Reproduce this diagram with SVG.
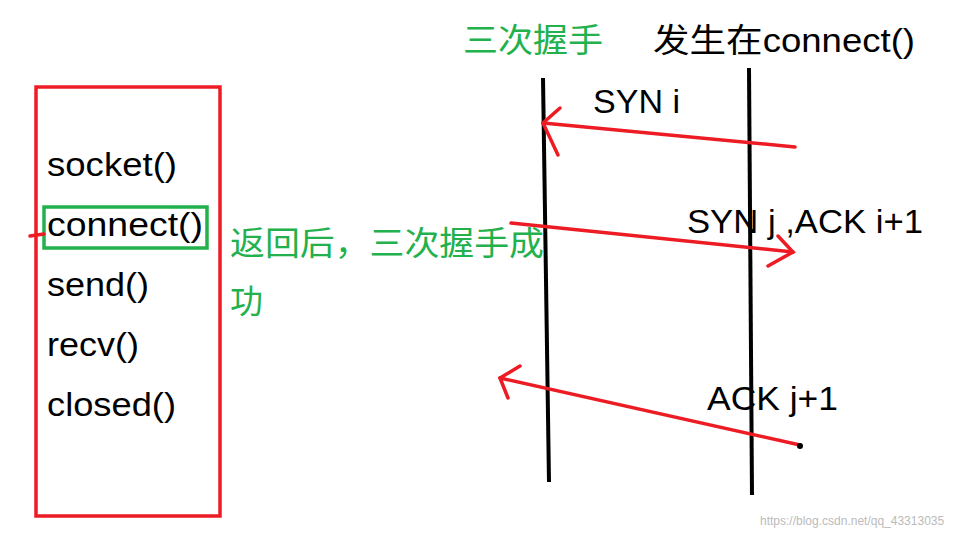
<svg xmlns="http://www.w3.org/2000/svg" width="969" height="536" viewBox="0 0 969 536">
<style>
.t{font-family:"Liberation Sans","Noto Sans CJK SC",sans-serif;font-size:33px;fill:#000}
.g{font-family:"Noto Sans CJK SC","Liberation Sans",sans-serif;font-size:33px;fill:#22b14c}
.r{stroke:#ed1c24;stroke-width:3.5;fill:none;stroke-linecap:round}
.k{stroke:#000;stroke-width:4;fill:none}
</style>
<rect width="969" height="536" fill="#fff"/>
<g id="api">
<rect x="36" y="87" width="184" height="429" class="r"/>
<rect x="44" y="207" width="163" height="41" fill="none" stroke="#22b14c" stroke-width="3.5"/>
<line x1="30" y1="236" x2="44" y2="234" class="r"/>
<text class="t" x="47" y="176" textLength="130" lengthAdjust="spacingAndGlyphs">socket()</text>
<text class="t" x="47" y="236" textLength="156" lengthAdjust="spacingAndGlyphs">connect()</text>
<text class="t" x="47" y="296" textLength="102" lengthAdjust="spacingAndGlyphs">send()</text>
<text class="t" x="47" y="356" textLength="92" lengthAdjust="spacingAndGlyphs">recv()</text>
<text class="t" x="47" y="416" textLength="129" lengthAdjust="spacingAndGlyphs">closed()</text>
</g>
<g id="note">
<text class="g" x="230" y="255" textLength="314" lengthAdjust="spacingAndGlyphs">返回后，三次握手成</text>
<text class="g" x="230" y="313">功</text>
</g>
<g id="titles">
<text class="g" x="463" y="52" textLength="140" lengthAdjust="spacingAndGlyphs">三次握手</text>
<text class="t" x="653" y="52" textLength="262" lengthAdjust="spacingAndGlyphs">发生在connect()</text>
</g>
<g id="lifelines">
<line x1="543" y1="78" x2="549" y2="482" class="k"/>
<line x1="749" y1="68" x2="752" y2="495" class="k"/>
</g>
<g id="connectors">
<line x1="795" y1="147" x2="543" y2="123" class="r"/>
<polyline points="560,108 543,123 558,155" class="r"/>
<line x1="511" y1="223" x2="793" y2="252" class="r"/>
<polyline points="778,236 793,252 768,266" class="r"/>
<line x1="800" y1="445" x2="500" y2="378" class="r"/>
<polyline points="520,366 500,378 508,398" class="r"/>
<circle cx="800" cy="446" r="3" fill="#000"/>
</g>
<g id="labels">
<text class="t" x="593" y="113" textLength="87" lengthAdjust="spacingAndGlyphs">SYN i</text>
<text class="t" x="687" y="233" textLength="236" lengthAdjust="spacingAndGlyphs">SYN j ,ACK i+1</text>
<text class="t" x="707" y="410" textLength="131" lengthAdjust="spacingAndGlyphs">ACK j+1</text>
</g>
<text x="760" y="525" font-family="Liberation Sans,sans-serif" font-size="12" fill="#bbb">https://blog.csdn.net/qq_43313035</text>
</svg>
